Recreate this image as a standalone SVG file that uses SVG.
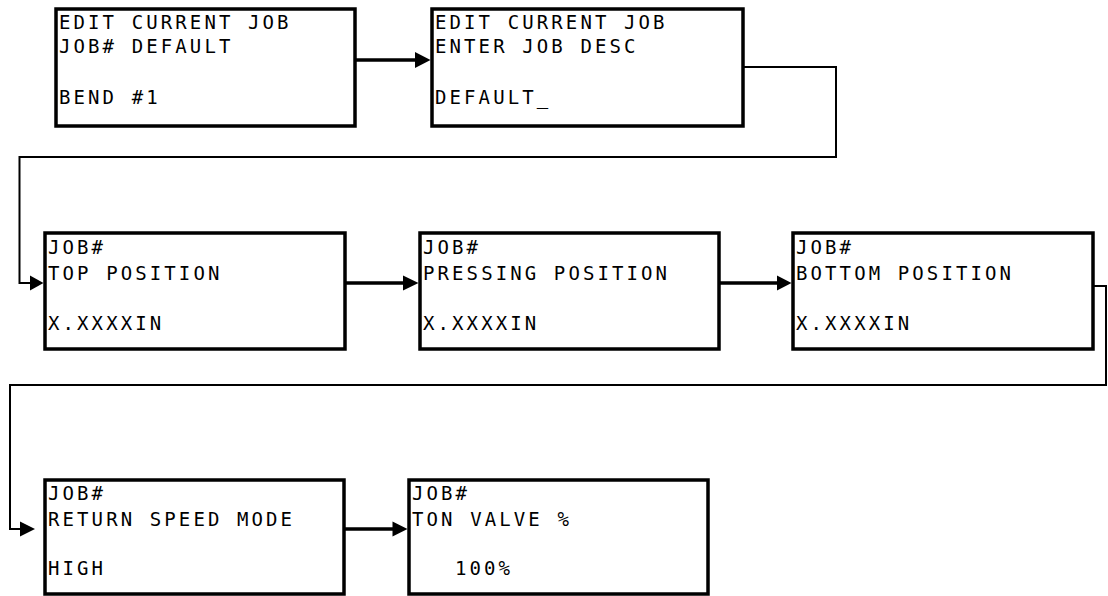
<svg xmlns="http://www.w3.org/2000/svg" width="1108" height="596" viewBox="0 0 1108 596">
<style>
.box{fill:#fff;stroke:#000;stroke-width:3.5}
.t{font-family:"DejaVu Sans Mono","Liberation Mono",monospace;font-size:19px;letter-spacing:3.1px;fill:#000}
.arr{stroke:#000;stroke-width:3.5;fill:none}
.bend{stroke:#000;stroke-width:2;fill:none}
.head{fill:#000}
</style>
<rect width="1108" height="596" fill="#fff"/>
<g id="connectors">
<line class="arr" x1="356" y1="60" x2="416" y2="60"/>
<polygon class="head" points="415,52 430.5,60 415,68"/>
<line class="arr" x1="346" y1="283" x2="404" y2="283"/>
<polygon class="head" points="403,275.5 418.5,283 403,290.5"/>
<line class="arr" x1="720" y1="283" x2="778" y2="283"/>
<polygon class="head" points="777,275.5 791.5,283 777,290.5"/>
<line class="arr" x1="345" y1="529" x2="394" y2="529"/>
<polygon class="head" points="392.5,521.5 407.5,529 392.5,536.5"/>
<polyline class="bend" points="744,67 836,67 836,157 19.5,157 19.5,283 31,283"/>
<polygon class="head" points="30,275.5 43.5,283 30,290.5"/>
<polyline class="bend" points="1094,286 1106,286 1106,385 10,385 10,529 21,529"/>
<polygon class="head" points="20,521.5 35,529 20,536.5"/>
</g>
<g id="n1">
<rect class="box" x="56" y="9" width="299" height="117"/>
<text class="t" x="59" y="29">EDIT CURRENT JOB</text>
<text class="t" x="59" y="53">JOB# DEFAULT</text>
<text class="t" x="59" y="104">BEND #1</text>
</g>
<g id="n2">
<rect class="box" x="432" y="9" width="311" height="117"/>
<text class="t" x="435" y="29">EDIT CURRENT JOB</text>
<text class="t" x="435" y="53">ENTER JOB DESC</text>
<text class="t" x="435" y="104">DEFAULT_</text>
</g>
<g id="n3">
<rect class="box" x="45" y="233" width="300" height="116"/>
<text class="t" x="48" y="254">JOB#</text>
<text class="t" x="48" y="280">TOP POSITION</text>
<text class="t" x="48" y="330">X.XXXXIN</text>
</g>
<g id="n4">
<rect class="box" x="420" y="233" width="299" height="116"/>
<text class="t" x="423" y="254">JOB#</text>
<text class="t" x="423" y="280">PRESSING POSITION</text>
<text class="t" x="423" y="330">X.XXXXIN</text>
</g>
<g id="n5">
<rect class="box" x="793" y="233" width="300" height="116"/>
<text class="t" x="796" y="254">JOB#</text>
<text class="t" x="796" y="280">BOTTOM POSITION</text>
<text class="t" x="796" y="330">X.XXXXIN</text>
</g>
<g id="n6">
<rect class="box" x="45" y="480" width="299" height="114"/>
<text class="t" x="48" y="500">JOB#</text>
<text class="t" x="48" y="526">RETURN SPEED MODE</text>
<text class="t" x="48" y="575">HIGH</text>
</g>
<g id="n7">
<rect class="box" x="409" y="480" width="299" height="114"/>
<text class="t" x="412" y="500">JOB#</text>
<text class="t" x="412" y="526">TON VALVE %</text>
<text class="t" x="455" y="575">100%</text>
</g>
</svg>
